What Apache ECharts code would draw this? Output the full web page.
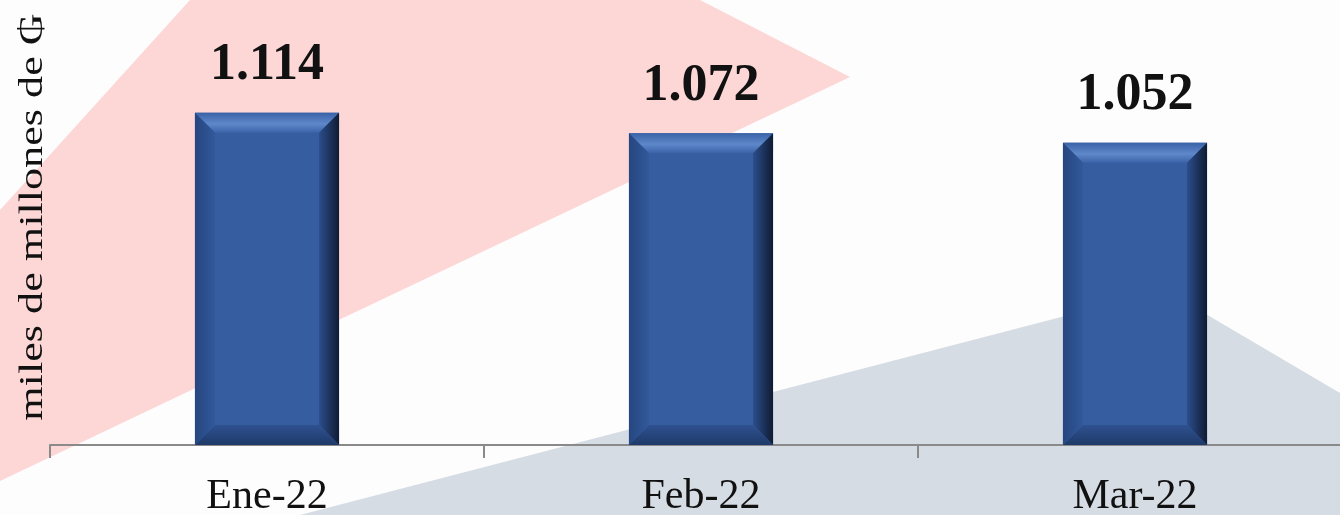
<!DOCTYPE html>
<html lang="es">
<head>
    <meta charset="UTF-8">
    <title>index</title>
    <script src="https://cdn.jsdelivr.net/npm/echarts@6/dist/echarts.min.js"></script>
    <style>
        html, body { margin: 0; padding: 0; background: #fdfdfd; }
        #chart { width: 1340px; height: 515px; }
    </style>
</head>
<body>
<div id="chart"></div>
<script>
    // datos
    var categories = ['Ene-22', 'Feb-22', 'Mar-22'];
    var values = [1114, 1072, 1052];
    var yMin = 428;
    var yMax = 1347;
    var axisName = 'miles de millones de \u20B2';

    var serif = '"Liberation Serif", "DejaVu Serif", serif';

    // 1114 -> "1.114"
    function fmt(v) {
        return String(v).replace(/\B(?=(\d{3})+(?!\d))/g, '.');
    }

    var myChart = echarts.init(document.getElementById('chart'));

    function grad(x2, y2, stops) {
        return new echarts.graphic.LinearGradient(0, 0, x2, y2, stops);
    }

    // barra con bisel
    function renderBar(params, api) {
        var top = api.coord([api.value(0), api.value(1)]);
        var bottom = api.coord([api.value(0), yMin]);
        var w = api.size([1, 0])[0] * 0.332;
        var x0 = top[0] - w / 2, x1 = top[0] + w / 2;
        var y0 = top[1], y1 = bottom[1];
        var b = 20;
        return {
            type: 'group',
            children: [
                {
                    type: 'rect',
                    shape: { x: x0, y: y0, width: w, height: y1 - y0 },
                    style: { fill: '#355da0' },
                    textContent: {
                        style: {
                            text: fmt(api.value(1)),
                            font: 'bold 52px ' + serif,
                            fill: '#111'
                        }
                    },
                    textConfig: { position: 'top', distance: 21 }
                },
                {   // arriba
                    type: 'polygon',
                    shape: { points: [[x0, y0], [x1, y0], [x1 - b, y0 + b], [x0 + b, y0 + b]] },
                    style: { fill: grad(0, 1, [
                        { offset: 0, color: '#3a62a6' },
                        { offset: 0.55, color: '#5f88cb' },
                        { offset: 1, color: '#3b63a7' }
                    ]) }
                },
                {   // derecha
                    type: 'polygon',
                    shape: { points: [[x1, y0], [x1, y1], [x1 - b, y1 - b], [x1 - b, y0 + b]] },
                    style: { fill: grad(1, 0, [
                        { offset: 0, color: '#2c4e8c' },
                        { offset: 1, color: '#0f1b33' }
                    ]) }
                },
                {   // abajo
                    type: 'polygon',
                    shape: { points: [[x0, y1], [x1, y1], [x1 - b, y1 - b], [x0 + b, y1 - b]] },
                    style: { fill: grad(0, 1, [
                        { offset: 0, color: '#2e5190' },
                        { offset: 1, color: '#1f3a69' }
                    ]) }
                },
                {   // izquierda
                    type: 'polygon',
                    shape: { points: [[x0, y0], [x0, y1], [x0 + b, y1 - b], [x0 + b, y0 + b]] },
                    style: { fill: grad(1, 0, [
                        { offset: 0, color: '#26467f' },
                        { offset: 1, color: '#32599b' }
                    ]) }
                }
            ]
        };
    }

    var option = {
        backgroundColor: '#fdfdfd',
        animation: false,
        graphic: [
            {
                type: 'polygon',
                z: -10,
                silent: true,
                shape: { points: [[190, 0], [700, 0], [850, 77], [0, 481], [0, 210]] },
                style: { fill: '#fdd6d6' }
            },
            {
                type: 'polygon',
                z: -10,
                silent: true,
                shape: { points: [[300, 515], [1165, 290], [1340, 393], [1340, 515]] },
                style: { fill: '#d6dce4' }
            },
            {
                // titulo del eje y (estirado como en el original)
                type: 'text',
                x: 33,
                y: 217,
                rotation: Math.PI / 2,
                scaleX: 1.3,
                silent: true,
                style: {
                    text: axisName,
                    font: '34px ' + serif,
                    fill: '#111',
                    textAlign: 'center',
                    textVerticalAlign: 'middle'
                }
            }
        ],
        grid: {
            left: 50,
            width: 1302,
            top: 0,
            bottom: 70,
            outerBoundsMode: 'none'
        },
        xAxis: {
            type: 'category',
            data: categories,
            boundaryGap: true,
            axisLine: { lineStyle: { color: '#8a8a8a', width: 2 } },
            axisTick: { show: true, length: 13, lineStyle: { color: '#8a8a8a', width: 2 } },
            axisLabel: {
                fontSize: 42,
                fontFamily: serif,
                color: '#111',
                margin: 31
            }
        },
        yAxis: {
            type: 'value',
            min: yMin,
            max: yMax,
            axisLine: { show: false },
            axisTick: { show: false },
            axisLabel: { show: false },
            splitLine: { show: false }
        },
        series: [
            {
                type: 'custom',
                renderItem: renderBar,
                encode: { x: 0, y: 1 },
                data: values.map(function (v, i) { return [i, v]; })
            }
        ]
    };

    myChart.setOption(option);

    window.addEventListener('resize', function () {
        myChart.resize();
    });
</script>
</body>
</html>
